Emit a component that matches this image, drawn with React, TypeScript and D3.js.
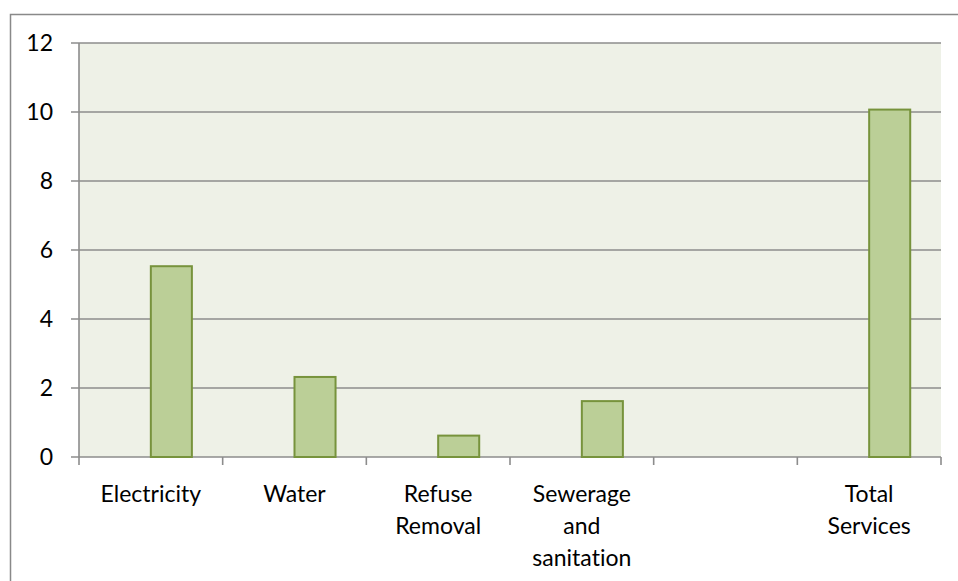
import React from "react";
import * as d3 from "d3";

const categories: string[][] = [
  ["Electricity"],
  ["Water"],
  ["Refuse", "Removal"],
  ["Sewerage", "and", "sanitation"],
  [""],
  ["Total", "Services"],
];
const seriesA: (number | null)[] = [null, null, null, null, null, null];
const seriesB: (number | null)[] = [5.53, 2.32, 0.62, 1.62, null, 10.07];
const yTicks: number[] = [0, 2, 4, 6, 8, 10, 12];

export default function App() {
  const W = 958;
  const H = 581;
  const left = 79, right = 941, top = 43, bottom = 457;
  const x = d3.scaleBand<number>().domain(d3.range(categories.length)).range([left, right]).paddingInner(0).paddingOuter(0);
  const y = d3.scaleLinear().domain([0, 12]).range([bottom, top]);
  const bw = x.bandwidth() / 3.5;
  const font = "Lato, 'Open Sans', sans-serif";
  const fs = 23;
  const noLig = { fontVariantLigatures: "none", fontFeatureSettings: "'liga' 0, 'clig' 0, 'dlig' 0" } as React.CSSProperties;
  return (
    <svg width={W} height={H} style={{ position: "absolute", left: 0, top: 0, background: "#fff", ...noLig }}>
      <rect x={10.5} y={14.5} width={W + 20} height={H + 20} fill="#fff" stroke="#898989" strokeWidth={1.5} />
      <rect x={left} y={top} width={right - left} height={bottom - top} fill="#EEF1E7" />
      {yTicks.map((t) => (
        <g key={t}>
          <line x1={left - 8} x2={right} y1={y(t)} y2={y(t)} stroke="#8C8C8C" strokeWidth={1.6} />
          <text x={53} y={y(t) + 8} textAnchor="end" fontFamily={font} fontSize={fs} fill="#000">{t}</text>
        </g>
      ))}
      <line x1={left} x2={left} y1={top} y2={bottom} stroke="#8C8C8C" strokeWidth={1.6} />
      {d3.range(categories.length + 1).map((i) => {
        const xx = i < categories.length ? (x(i) as number) : right;
        return <line key={i} x1={xx} x2={xx} y1={bottom} y2={bottom + 8} stroke="#8C8C8C" strokeWidth={1.6} />;
      })}
      {[seriesA, seriesB].map((s, si) =>
        s.map((v, i) =>
          v == null ? null : (
            <rect
              key={si + "-" + i}
              x={(x(i) as number) + bw * 0.75 + si * bw}
              y={y(v)}
              width={bw}
              height={bottom - y(v)}
              fill="#BBCF97"
              stroke="#77933C"
              strokeWidth={2}
            />
          )
        )
      )}
      {categories.map((lines, i) => (
        <text key={i} textAnchor="middle" fontFamily={font} fontSize={fs} fill="#000" style={noLig}>
          {lines.map((l, j) => (
            <tspan key={j} x={(x(i) as number) + x.bandwidth() / 2} y={502 + j * 32}>{l}</tspan>
          ))}
        </text>
      ))}
    </svg>
  );
}
